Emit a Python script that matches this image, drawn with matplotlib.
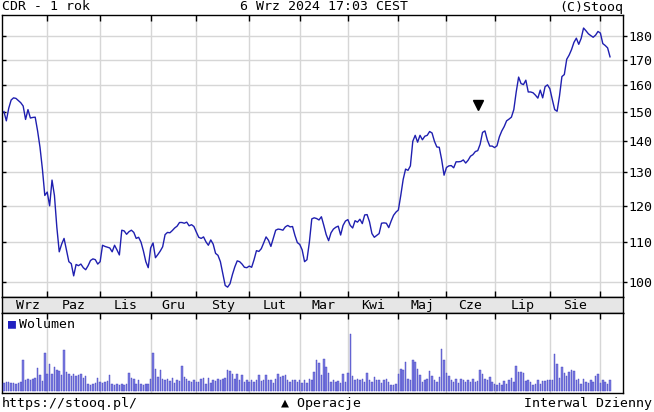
import matplotlib

matplotlib.use("Agg")
import matplotlib.lines as mlines
import matplotlib.pyplot as plt
import numpy as np
from matplotlib.ticker import FixedLocator, NullFormatter, NullLocator

# --- data (one value per trading day) ---
price = [
    150.3, 147.0, 151.5, 154.5, 155.3, 155.1, 154.3, 153.5, 152.3, 147.5,
    151.0, 148.0, 148.2, 148.3, 143.5, 138.0, 131.0, 123.0, 124.0, 120.0,
    127.6, 123.0, 114.0, 107.5, 109.5, 111.0, 108.0, 105.0, 104.5, 101.5,
    104.3, 104.0, 104.4, 103.5, 103.0, 104.0, 105.3, 105.7, 105.5, 104.4,
    105.0, 109.2, 108.9, 108.7, 108.5, 107.5, 109.2, 108.0, 106.7, 113.2,
    113.0, 112.1, 112.8, 113.2, 112.6, 111.0, 111.3, 110.0, 107.7, 105.0,
    103.5, 108.5, 109.8, 106.0, 106.8, 107.7, 108.8, 112.0, 112.6, 112.5,
    113.1, 113.8, 114.3, 115.3, 115.3, 115.1, 115.4, 114.4, 114.7, 114.2,
    112.7, 111.3, 111.0, 111.4, 110.1, 109.2, 110.6, 109.5, 107.1, 106.6,
    105.0, 102.0, 99.2, 98.8, 99.6, 101.8, 103.7, 105.2, 105.0, 104.4,
    103.6, 103.5, 103.9, 103.6, 105.5, 107.8, 107.6, 108.3, 109.8, 111.4,
    110.5, 108.9, 111.0, 113.2, 113.5, 113.4, 113.2, 114.1, 114.5, 114.1,
    114.2, 111.8, 109.9, 109.4, 108.0, 105.0, 105.5, 110.0, 116.3, 116.6,
    116.4, 116.0, 116.9, 114.5, 112.0, 110.4, 112.5, 113.5, 114.0, 114.3,
    111.9, 114.5, 115.7, 116.1, 114.5, 113.8, 115.8, 115.4, 116.2, 115.0,
    117.4, 117.5, 115.5, 112.3, 111.3, 111.8, 112.3, 115.1, 115.2, 115.1,
    113.9, 115.7, 117.3, 118.2, 118.8, 123.0, 127.8, 131.0, 130.6, 132.0,
    140.0, 142.0, 139.7, 142.0, 140.5, 141.7, 142.0, 143.3, 142.8, 140.0,
    138.1, 138.0, 134.0, 129.1, 131.5, 132.0, 132.1, 131.4, 133.3, 133.3,
    133.4, 133.9, 132.9, 133.8, 135.1, 135.6, 136.6, 136.9, 139.0, 143.0,
    143.5, 140.4, 138.4, 138.4, 137.9, 138.5, 141.5, 143.5, 145.0, 147.0,
    147.6, 148.3, 151.0, 157.5, 163.2, 160.7, 160.3, 162.0, 157.5, 157.5,
    157.2, 156.3, 155.2, 158.2, 155.3, 159.5, 160.2, 158.7, 154.7, 151.0,
    150.4, 156.0, 163.4, 164.2, 170.3, 172.0, 174.3, 177.3, 179.1, 176.5,
    179.0, 183.5, 182.3, 181.0, 180.2, 179.5, 180.4, 182.0, 181.3, 176.8,
    176.0, 175.0, 171.3,
]

volume = [
    8, 9, 9, 8, 8, 7, 8, 9, 31, 11, 12, 11, 12, 13, 23, 16, 10, 38, 17, 27,
    17, 24, 21, 20, 16, 41, 19, 17, 15, 17, 15, 16, 17, 13, 15, 7, 6, 7, 8, 13,
    9, 8, 9, 10, 16, 7, 6, 7, 6, 7, 6, 7, 18, 13, 12, 7, 11, 7, 6, 7,
    7, 12, 38, 22, 14, 21, 12, 11, 12, 10, 13, 8, 11, 10, 25, 14, 12, 10, 9, 11,
    9, 9, 12, 13, 7, 13, 8, 11, 10, 12, 11, 12, 13, 21, 20, 17, 12, 17, 11, 16,
    9, 11, 9, 11, 9, 11, 16, 10, 11, 16, 11, 11, 8, 12, 17, 14, 15, 16, 11, 9,
    11, 11, 9, 11, 8, 11, 8, 12, 11, 19, 31, 28, 16, 32, 24,
    18, 9, 11, 9, 10, 8, 17, 9, 18, 57, 15, 11, 12, 11, 12, 9, 18, 11, 9, 14,
    11, 11, 8, 11, 12, 9, 6, 6, 7, 17, 22, 21, 29, 12, 11, 31, 29, 22, 16, 9,
    11, 12, 20, 15, 11, 9, 14, 42, 31, 18, 15, 11, 9, 12, 8, 12, 11, 9, 11, 9,
    12, 9, 10, 21, 17, 12, 11, 14, 9, 7, 6, 8, 6, 10, 7, 11, 13, 9, 25, 19,
    19, 18, 10, 11, 9, 6, 7, 11, 7, 10, 10, 11, 11, 11, 37, 27, 13, 24, 18, 15,
    19, 21, 20, 11, 12, 7, 12, 9, 8, 11, 9, 15, 17, 8, 11, 9, 7, 11,
]

# trading-day index where each month begins (Oct 2023 .. Sep 2024)
month_starts = [18, 40, 61, 80, 102, 123, 143, 164, 184, 204, 227, 248]
month_labels = ["Wrz", "Paz", "Lis", "Gru", "Sty", "Lut", "Mar", "Kwi",
                "Maj", "Cze", "Lip", "Sie"]
price_ticks = [100, 110, 120, 130, 140, 150, 160, 170, 180]

op_index = 197      # "operacje" marker
op_price = 152.7

# --- layout helpers (pixel boxes on a 654x412 canvas) ---
W, H = 654, 412
fig = plt.figure(figsize=(W / 100, H / 100), dpi=100)
fig.patch.set_facecolor("white")


def px_axes(x0, y0, x1, y1):
    return fig.add_axes([x0 / W, 1 - y1 / H, (x1 - x0) / W, (y1 - y0) / H])


MONO = ["DejaVu Sans Mono", "DejaVu Sans"]
FS = 9.5
GRID = "#d6d6d6"
LINE = "#1f1fb0"
XLIM = (-0.8, 257.4)

ax = px_axes(2, 15, 623, 297)
ax_band = px_axes(2, 297, 623, 313)
ax_vol = px_axes(2, 313, 623, 393)

# price panel
idx = np.arange(len(price))
ax.plot(idx, price, color=LINE, lw=1.0, zorder=3)
ax.plot([op_index], [op_price], marker="v", color="black", ms=6.5, ls="none", zorder=4)
ax.set_yscale("log")
ax.set_ylim(96.5, 189.3)
ax.set_xlim(*XLIM)
ax.yaxis.set_major_locator(FixedLocator(price_ticks))
ax.yaxis.set_minor_locator(NullLocator())
ax.yaxis.set_minor_formatter(NullFormatter())
ax.set_yticklabels([str(t) for t in price_ticks], family=MONO, fontsize=FS)
ax.set_xticks(month_starts)
ax.tick_params(axis="x", which="major", direction="in", top=True, bottom=True,
               length=4, width=1, labelbottom=False)
ax.tick_params(axis="y", which="major", direction="out", left=True, right=True,
               labelleft=False, labelright=True, length=3, width=1, pad=1)
for t in ax.yaxis.get_major_ticks():
    t.tick1line.set_marker(mlines.TICKRIGHT)
ax.grid(True, which="major", color=GRID, lw=1.0, zorder=0)
for s in ax.spines.values():
    s.set_linewidth(1.0)

# month band
ax_band.set_facecolor("#e6e6e6")
ax_band.set_xlim(*XLIM)
ax_band.set_xticks([])
ax_band.set_yticks([])
bounds = [2] + month_starts + [269]
for lab, a, b in zip(month_labels, bounds[:-1], bounds[1:]):
    ax_band.text((a + b) / 2, 0.45, lab, ha="center", va="center",
                 family=MONO, fontsize=FS, transform=ax_band.get_xaxis_transform())
for s in ax_band.spines.values():
    s.set_linewidth(1.0)

# volume panel
vidx = np.arange(len(volume))
ax_vol.bar(vidx, volume, width=0.62, color="#7c7ce0", edgecolor="#4040c0",
           lw=0.3, zorder=3)
ax_vol.set_xlim(*XLIM)
ax_vol.set_ylim(-2, 78)
ax_vol.set_xticks(month_starts)
ax_vol.set_yticks([])
ax_vol.tick_params(axis="x", direction="in", top=True, bottom=False,
                   length=4, width=1, labelbottom=False)
ax_vol.grid(True, axis="x", color=GRID, lw=1.0, zorder=0)
for s in ax_vol.spines.values():
    s.set_linewidth(1.0)
ax_vol.text(0.009, 0.86, "\u25a0", color="#2020c0", family=MONO, fontsize=FS,
            ha="left", va="center", transform=ax_vol.transAxes)
ax_vol.text(0.027, 0.86, "Wolumen", family=MONO, fontsize=FS,
            ha="left", va="center", transform=ax_vol.transAxes)

# header / footer
fig.text(2 / W, 1 - 7 / H, "CDR - 1 rok", family=MONO, fontsize=FS, va="center", ha="left")
fig.text(324 / W, 1 - 7 / H, "6 Wrz 2024 17:03 CEST", family=MONO, fontsize=FS,
         va="center", ha="center")
fig.text(623 / W, 1 - 7 / H, "(C)Stooq", family=MONO, fontsize=FS, va="center", ha="right")
fig.text(2 / W, 1 - 403 / H, "https://stooq.pl/", family=MONO, fontsize=FS,
         va="center", ha="left")
fig.text(321 / W, 1 - 403 / H, "\u25b2 Operacje", family=MONO, fontsize=FS,
         va="center", ha="center")
fig.text(652 / W, 1 - 403 / H, "Interwal Dzienny", family=MONO, fontsize=FS,
         va="center", ha="right")

fig.savefig("out.png", dpi=100)
plt.close(fig)
